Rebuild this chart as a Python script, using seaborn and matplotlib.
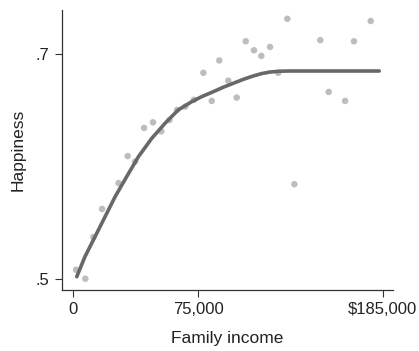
import matplotlib
matplotlib.use("Agg")
import matplotlib.pyplot as plt
import seaborn as sns
import pandas as pd

# Scatter data (income in $1000s, happiness)
pt_income = [2.0, 7.5, 12.3, 17.5, 27.4, 32.8, 37.2, 42.6, 47.9, 52.9, 57.7, 62.3,
             67.2, 72.4, 78.0, 83.0, 87.5, 92.9, 97.9, 103.3, 108.2, 112.6, 117.8,
             122.7, 128.1, 132.3, 147.8, 152.8, 162.6, 167.9, 177.9]
pt_happy = [0.508, 0.500, 0.537, 0.562, 0.585, 0.609, 0.604, 0.634, 0.639, 0.631,
            0.641, 0.650, 0.653, 0.659, 0.683, 0.658, 0.694, 0.676, 0.661, 0.711,
            0.703, 0.698, 0.706, 0.683, 0.731, 0.584, 0.712, 0.666, 0.658, 0.711, 0.729]

# Fitted curve
ln_income = [2.4, 7.3, 13.3, 19.3, 25.3, 32.2, 39.2, 47.2, 55.1, 63.0, 71.0, 77.0,
             83.9, 89.9, 95.9, 101.9, 107.8, 112.8, 117.8, 123.7, 129.7, 150.0, 183.0]
ln_happy = [0.5018, 0.5196, 0.5373, 0.5551, 0.5729, 0.5907, 0.6084, 0.6248, 0.6381,
            0.6500, 0.6573, 0.6618, 0.6662, 0.6702, 0.6737, 0.6772, 0.6802, 0.6823,
            0.6837, 0.6844, 0.6846, 0.6846, 0.6846]

x_ticks = [0, 75, 185]
x_ticklabels = ["0", "75,000", "$185,000"]
y_ticks = [0.5, 0.7]
y_ticklabels = [".5", ".7"]

sns.set_theme(style="ticks")
plt.rcParams['font.family'] = ['Liberation Sans', 'DejaVu Sans']

fig = plt.figure(figsize=(4.19, 3.51), dpi=100)
ax = fig.add_axes([62/419, 1-290/351, (393-62)/419, (290-10)/351])

pts = pd.DataFrame({"income": pt_income, "happy": pt_happy})
ln = pd.DataFrame({"income": ln_income, "happy": ln_happy})

sns.scatterplot(data=pts, x="income", y="happy", ax=ax, color="#bdbdbd",
                s=22, edgecolor="none", zorder=2)
sns.lineplot(data=ln, x="income", y="happy", ax=ax, color="#686868",
             linewidth=2.6, zorder=3)

ax.set_xlim(-6.4, 191.2)
ax.set_ylim(0.49, 0.7388)
ax.set_xticks(x_ticks)
ax.set_xticklabels(x_ticklabels)
ax.set_yticks(y_ticks)
ax.set_yticklabels(y_ticklabels)
ax.tick_params(axis="both", labelsize=12, length=5, width=0.8, color="#333333",
               labelcolor="#222222", pad=4)
ax.set_xlabel("Family income", fontsize=12.5, color="#222222", labelpad=10)
ax.set_ylabel("Happiness", fontsize=12.5, color="#222222", labelpad=7)
for side in ["top", "right"]:
    ax.spines[side].set_visible(False)
for side in ["left", "bottom"]:
    ax.spines[side].set_color("#333333")
    ax.spines[side].set_linewidth(0.9)

fig.savefig("out.png", dpi=100)
